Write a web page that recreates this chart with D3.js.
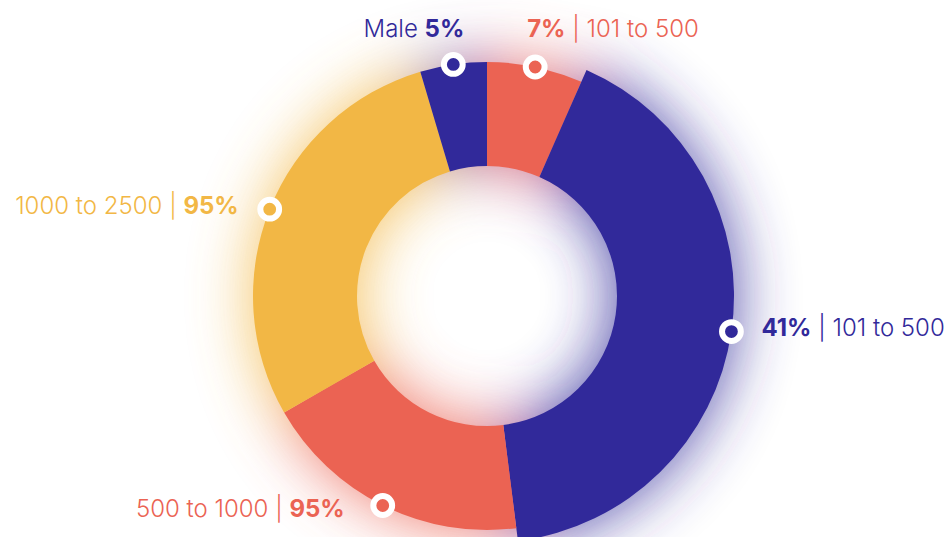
<!DOCTYPE html>
<html>
<head>
<meta charset="utf-8">
<script src="https://cdn.jsdelivr.net/npm/d3@7"></script>
<style>
	body { margin: 0; background: #ffffff; }
	#chart { width: 952px; height: 537px; overflow: hidden; }
	text { font-family: Inter, "Noto Sans", sans-serif; }
</style>
</head>
<body>
<div id="chart"></div>
<script>
// Slices, clockwise from 12 o'clock
var sliceNames  = ["101 to 500", "101 to 500", "500 to 1000", "1000 to 2500", "Male"];
var sliceShares = [6.6, 41.4, 18.7, 28.7, 4.6];
var sliceLabels = ["7%", "41%", "95%", "95%", "5%"];
var pctFirst    = [true, true, false, false, false];
var separators  = [" | ", " | ", " | ", " | ", " "];
var sliceColors = ["#eb6353", "#31299a", "#eb6353", "#f2b745", "#31299a"];
var poppedSlice = 1;

var width = 952, height = 537;
var cx = 487, cy = 296;
var innerR = 130, outerR = 234, outerOverR = 247;

// label placement relative to its marker
var labelPlace = [
	{dx: -8,  dy: -30, anchor: "start"},
	{dx: 30,  dy: 4,   anchor: "start"},
	{dx: -38, dy: 12,  anchor: "end"},
	{dx: -31, dy: 5,   anchor: "end"},
	{dx: 11,  dy: -27, anchor: "end"}
];

var svg = d3.select("#chart")
	.append("svg")
	.attr("width", width)
	.attr("height", height);

var defs = svg.append("defs");
var glow = defs.append("filter")
	.attr("id", "glow")
	.attr("filterUnits", "userSpaceOnUse")
	.attr("x", -cx).attr("y", -cy - 50)
	.attr("width", width).attr("height", height + 100);
glow.append("feGaussianBlur").attr("stdDeviation", 32);

var g = svg.append("g")
	.attr("transform", "translate(" + cx + "," + cy + ")");

var pie = d3.pie()
	.sort(null)
	.value(function(d) { return d; });
var pieData = pie(sliceShares);

var arcGenerator = d3.arc()
	.innerRadius(innerR)
	.outerRadius(function(d) { return d.index == poppedSlice ? outerOverR : outerR; });

// soft coloured glow behind the ring
g.append("g")
	.attr("filter", "url(#glow)")
	.style("opacity", 0.85)
	.selectAll("path")
	.data(pieData)
	.enter()
	.append("path")
		.attr("d", arcGenerator)
		.attr("fill", function(d) { return sliceColors[d.index]; });

g.selectAll("path.slice")
	.data(pieData)
	.enter()
	.append("path")
		.attr("class", "slice")
		.attr("d", arcGenerator)
		.attr("fill", function(d) { return sliceColors[d.index]; });

function markerPos(d) {
	var a = (d.startAngle + d.endAngle) / 2;
	var r = d.index == poppedSlice ? outerOverR : outerR;
	return [r * Math.sin(a), -r * Math.cos(a)];
}

g.selectAll("circle.marker")
	.data(pieData)
	.enter()
	.append("circle")
		.attr("class", "marker")
		.attr("cx", function(d) { return markerPos(d)[0]; })
		.attr("cy", function(d) { return markerPos(d)[1]; })
		.attr("r", 9.4)
		.attr("fill", function(d) { return sliceColors[d.index]; })
		.attr("stroke", "#ffffff")
		.attr("stroke-width", 6);

var labels = g.selectAll("text.label")
	.data(pieData)
	.enter()
	.append("text")
		.attr("class", "label")
		.attr("x", function(d) { return markerPos(d)[0] + labelPlace[d.index].dx; })
		.attr("y", function(d) { return markerPos(d)[1] + labelPlace[d.index].dy; })
		.attr("text-anchor", function(d) { return labelPlace[d.index].anchor; })
		.attr("fill", function(d) { return sliceColors[d.index]; })
		.style("font-size", "24px");

labels.each(function(d) {
	var t = d3.select(this);
	var i = d.index;
	var parts = pctFirst[i]
		? [[sliceLabels[i], true], [separators[i] + sliceNames[i], false]]
		: [[sliceNames[i] + separators[i], false], [sliceLabels[i], true]];
	parts.forEach(function(p) {
		t.append("tspan")
			.attr("font-weight", p[1] ? 700 : 300)
			.style("white-space", "pre")
			.text(p[0]);
	});
});
</script>
</body>
</html>
